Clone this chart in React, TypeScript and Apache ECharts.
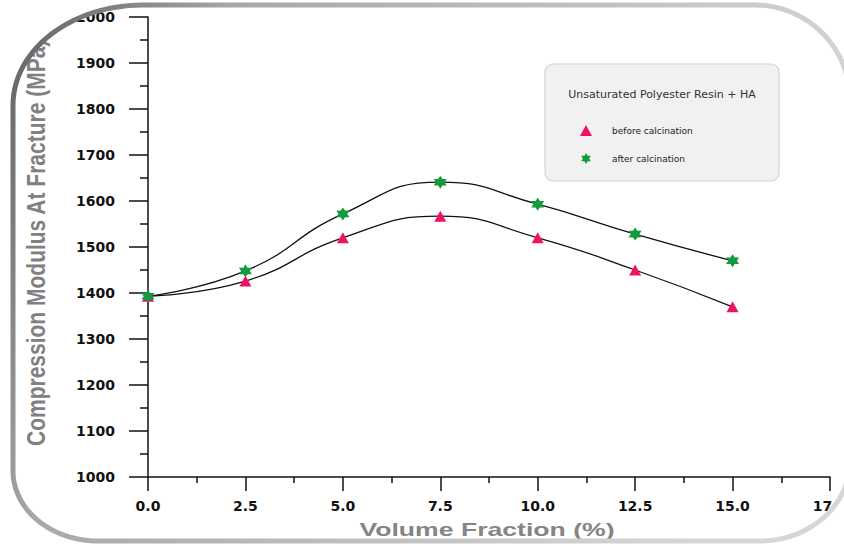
import React, { useEffect, useRef } from "react";
import * as echarts from "echarts";

const volumeFraction = [0, 2.5, 5, 7.5, 10, 12.5, 15];
const beforeCalcination = [1393, 1426, 1520, 1567, 1520, 1450, 1370];
const afterCalcination = [1393, 1448, 1572, 1641, 1593, 1528, 1470];
const seriesNames = ["before calcination", "after calcination"];
const legendTitle = "Unsaturated Polyester Resin + HA";
const xTitle = "Volume Fraction (%)";
const yTitle = "Compression Modulus At Fracture (MPa)";

const starPath = (() => {
  const pts: string[] = [];
  for (let k = 0; k < 12; k++) {
    const r = k % 2 ? 0.58 : 1;
    const a = -Math.PI / 2 + (k * Math.PI) / 6;
    pts.push(`${(r * Math.cos(a)).toFixed(3)} ${(r * Math.sin(a)).toFixed(3)}`);
  }
  return "path://M" + pts.join(" L") + " Z";
})();

type Corner = [number, number];

function arc(cx: number, cy: number, rx: number, ry: number, a0: number, a1: number, n = 28) {
  const pts: number[][] = [];
  for (let i = 0; i <= n; i++) {
    const t = ((a0 + ((a1 - a0) * i) / n) * Math.PI) / 180;
    pts.push([cx + rx * Math.cos(t), cy + ry * Math.sin(t)]);
  }
  return pts;
}

function buildFrame(x0: number, y0: number, x1: number, y1: number, tl: Corner, tr: Corner, br: Corner, bl: Corner) {
  const tlA = arc(x0 + tl[0], y0 + tl[1], tl[0], tl[1], 180, 270);
  const trA = arc(x1 - tr[0], y0 + tr[1], tr[0], tr[1], 270, 360);
  const brA = arc(x1 - br[0], y1 - br[1], br[0], br[1], 0, 90);
  const blA = arc(x0 + bl[0], y1 - bl[1], bl[0], bl[1], 90, 180);
  const outline = [...tlA, ...trA, ...brA, ...blA];
  const e = 60;
  const masks = [
    [[x0 - e, y0 - e], [x0 - e, y0 + tl[1]], ...tlA, [x0 + tl[0], y0 - e]],
    [[x1 + e, y0 - e], [x1 - tr[0], y0 - e], ...trA, [x1 + e, y0 + tr[1]]],
    [[x1 + e, y1 + e], [x1 + e, y1 - br[1]], ...brA, [x1 - br[0], y1 + e]],
    [[x0 - e, y1 + e], [x0 + bl[0], y1 + e], ...blA, [x0 - e, y1 - bl[1]]],
  ];
  return { outline, masks };
}

export default function App() {
  const ref = useRef<HTMLDivElement>(null);
  useEffect(() => {
    if (!ref.current) return;
    const chart = echarts.init(ref.current, undefined, { renderer: "svg" });
    const frame = buildFrame(13, 5, 850, 541, [130, 100], [95, 95], [90, 80], [85, 70]);
    const tickFont = { fontFamily: "DejaVu Sans", fontWeight: "bold" as const, fontSize: 14, color: "#111" };

    const graphics: any[] = [
      {
        type: "text",
        x: 36,
        y: 446,
        rotation: Math.PI / 2,
        scaleY: 1.25,
        z: 50,
        style: {
          text: yTitle,
          font: 'bold 21px "Liberation Sans"',
          fill: "#808080",
          textAlign: "left",
          textVerticalAlign: "middle",
          align: "left",
          verticalAlign: "middle",
        },
      },
      {
        type: "text",
        x: 487,
        y: 529,
        scaleX: 1.4,
        z: 50,
        style: {
          text: xTitle,
          font: 'bold 19px "Liberation Sans"',
          fill: "#858585",
          textAlign: "center",
          textVerticalAlign: "middle",
          align: "center",
          verticalAlign: "middle",
        },
      },
      {
        type: "rect",
        z: 40,
        shape: { x: 545, y: 64, width: 234, height: 117, r: 8 },
        style: { fill: "#f1f1f1", stroke: "#d2d2d2", lineWidth: 1.2 },
      },
      {
        type: "text",
        x: 662,
        y: 94,
        z: 41,
        style: {
          text: legendTitle,
          font: '11px "DejaVu Sans"',
          fill: "#333",
          textAlign: "center",
          textVerticalAlign: "middle",
          align: "center",
          verticalAlign: "middle",
        },
      },
      ...frame.masks.map((m) => ({
        type: "polygon",
        z: 100,
        shape: { points: m },
        style: { fill: "#ffffff", stroke: "none" },
      })),
      {
        type: "polygon",
        z: 110,
        shape: { points: frame.outline },
        style: {
          fill: "none",
          lineWidth: 5,
          stroke: new echarts.graphic.LinearGradient(0, 0, 1, 0.25, [
            { offset: 0, color: "#606060" },
            { offset: 0.25, color: "#a8a8a8" },
            { offset: 1, color: "#d6d6d6" },
          ]),
        },
      },
    ];

    chart.setOption({
      animation: false,
      backgroundColor: "#ffffff",
      grid: { left: 148, right: 14, top: 17, bottom: 69, containLabel: false, outerBoundsMode: "none" },
      legend: {
        orient: "vertical",
        left: 575,
        top: 120,
        itemWidth: 12,
        itemHeight: 11,
        itemGap: 17,
        z: 45,
        data: [
          { name: seriesNames[0], icon: "triangle" },
          { name: seriesNames[1], icon: starPath },
        ],
        textStyle: { fontFamily: "DejaVu Sans", fontSize: 9, color: "#222", padding: [0, 0, 0, 15] },
      },
      xAxis: {
        type: "value",
        min: 0,
        max: 17.5,
        interval: 2.5,
        axisLine: { show: true, lineStyle: { color: "#111", width: 1.5 } },
        axisTick: { show: true, length: 14, lineStyle: { color: "#111", width: 1.5 } },
        minorTick: { show: true, splitNumber: 2, length: 6, lineStyle: { color: "#111", width: 1.5 } },
        splitLine: { show: false },
        axisLabel: { ...tickFont, margin: 22, formatter: (v: number) => v.toFixed(1) },
      },
      yAxis: {
        type: "value",
        min: 1000,
        max: 2000,
        interval: 100,
        axisLine: { show: true, lineStyle: { color: "#111", width: 1.5 } },
        axisTick: { show: true, length: 19, lineStyle: { color: "#111", width: 1.5 } },
        minorTick: { show: true, splitNumber: 2, length: 8, lineStyle: { color: "#111", width: 1.5 } },
        splitLine: { show: false },
        axisLabel: { ...tickFont, margin: 33, formatter: (v: number) => String(v) },
      },
      series: [
        {
          name: seriesNames[0],
          type: "line",
          smooth: 0.5,
          data: volumeFraction.map((x, i) => [x, beforeCalcination[i]]),
          symbol: "triangle",
          symbolSize: [12, 11],
          lineStyle: { color: "#111", width: 1.3 },
          itemStyle: { color: "#ee1166" },
          z: 3,
        },
        {
          name: seriesNames[1],
          type: "line",
          smooth: 0.5,
          data: volumeFraction.map((x, i) => [x, afterCalcination[i]]),
          symbol: starPath,
          symbolSize: 13,
          lineStyle: { color: "#111", width: 1.3 },
          itemStyle: { color: "#139a3c" },
          z: 4,
        },
      ],
      graphic: graphics,
    });
    return () => chart.dispose();
  }, []);
  return <div ref={ref} style={{ position: "fixed", left: 0, top: 0, width: 844, height: 546 }} />;
}
